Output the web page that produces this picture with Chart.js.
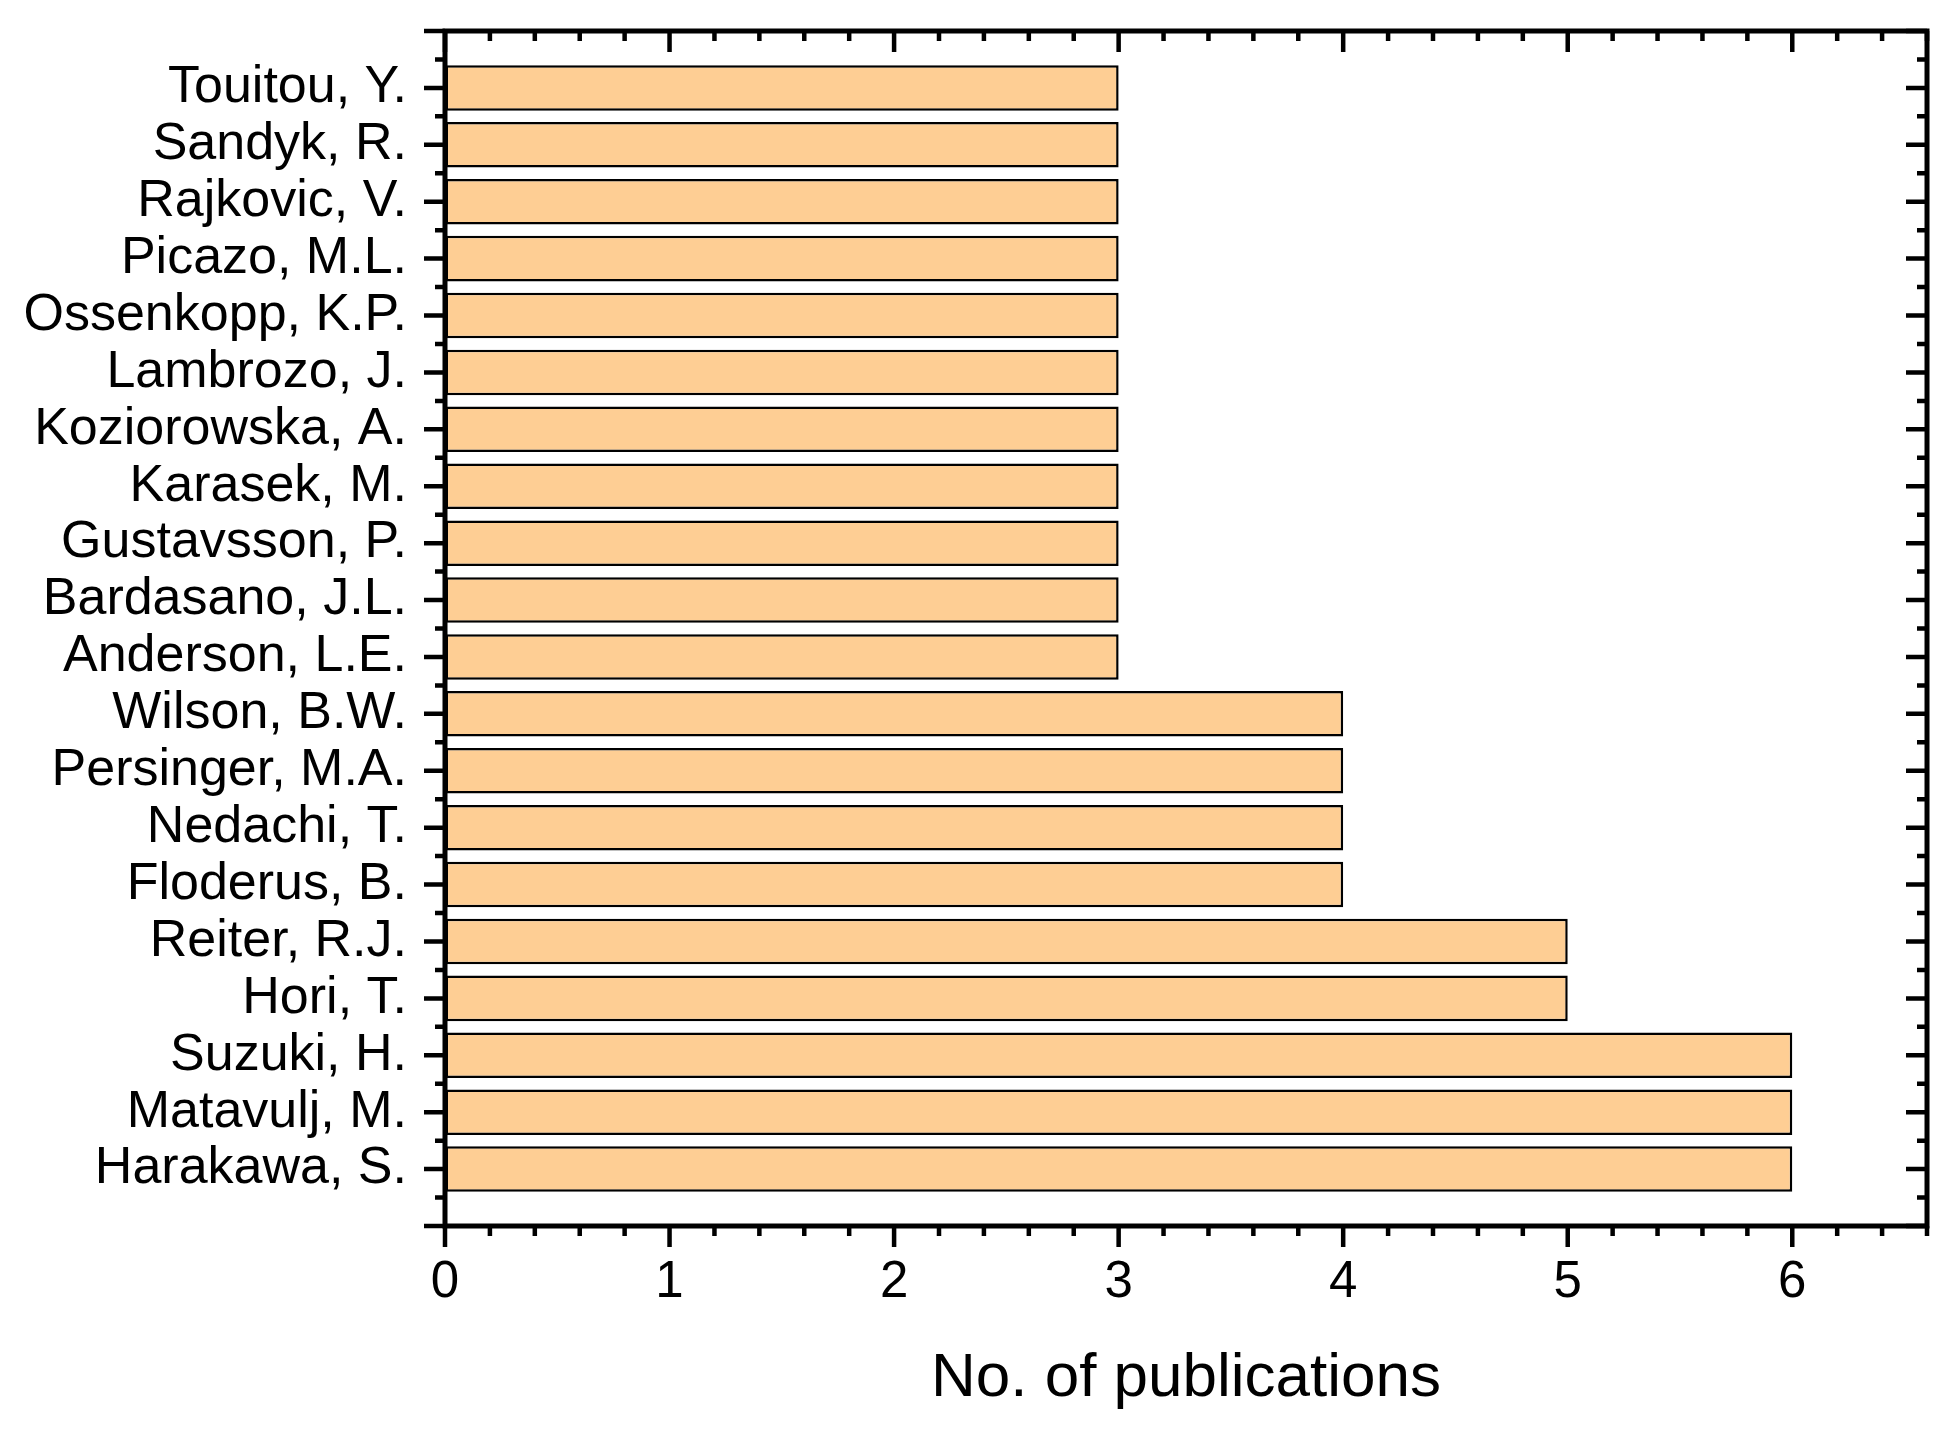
<!DOCTYPE html>
<html>
<head>
<meta charset="utf-8">
<title>No. of publications per author</title>
<script src="https://cdn.jsdelivr.net/npm/chart.js@4.4.1/dist/chart.umd.min.js"></script>
<style>
  html, body { margin: 0; padding: 0; background: #fff; }
  #wrap { width: 1956px; height: 1432px; position: relative; }
</style>
</head>
<body>
<div id="wrap"><canvas id="chart"></canvas></div>
<script>
// authors, listed top to bottom as in the figure
const authors = [
  "Touitou, Y.", "Sandyk, R.", "Rajkovic, V.", "Picazo, M.L.", "Ossenkopp, K.P.",
  "Lambrozo, J.", "Koziorowska, A.", "Karasek, M.", "Gustavsson, P.", "Bardasano, J.L.",
  "Anderson, L.E.", "Wilson, B.W.", "Persinger, M.A.", "Nedachi, T.", "Floderus, B.",
  "Reiter, R.J.", "Hori, T.", "Suzuki, H.", "Matavulj, M.", "Harakawa, S."
];
const publications = [3, 3, 3, 3, 3, 3, 3, 3, 3, 3, 3, 4, 4, 4, 4, 5, 5, 6, 6, 6];

const xMin = 0;
const xMax = 6.6;
const xTickValues = [0, 1, 2, 3, 4, 5, 6];
const xTitle = "No. of publications";

const FONT = "'Liberation Sans', Arial, Helvetica, sans-serif";

// box frame + Origin-style ticks (out on left/bottom, in on top/right)
const frameTicks = {
  id: "frameTicks",
  afterDraw(chart) {
    const { ctx, chartArea: a, scales } = chart;
    const x = scales.x, y = scales.y;
    const major = 21, minor = 10;
    ctx.save();
    ctx.strokeStyle = "#000";
    ctx.lineCap = "butt";
    ctx.lineWidth = 4.5;
    ctx.beginPath();
    // x ticks every 0.2, major each 1
    for (let k = 0; k <= Math.round(xMax * 5); k++) {
      const px = x.getPixelForValue(k / 5);
      const len = k % 5 === 0 ? major : minor;
      ctx.moveTo(px, a.bottom); ctx.lineTo(px, a.bottom + len);
      ctx.moveTo(px, a.top); ctx.lineTo(px, a.top + len);
    }
    // y ticks at each author, minor halfway between
    for (let k = -2; k <= authors.length * 2; k++) {
      const py = y.getPixelForValue(k / 2);
      const len = k % 2 === 0 ? major : minor;
      ctx.moveTo(a.left - len, py); ctx.lineTo(a.left, py);
      ctx.moveTo(a.right - len, py); ctx.lineTo(a.right, py);
    }
    ctx.stroke();
    ctx.lineWidth = 5;
    ctx.strokeRect(a.left, a.top, a.right - a.left, a.bottom - a.top);
    ctx.restore();
  }
};

const ctx = document.getElementById("chart").getContext("2d");
new Chart(ctx, {
  type: "bar",
  data: {
    datasets: [{
      data: authors.map((name, i) => ({ x: publications[i], y: i })),
      backgroundColor: "#FECE94",
      borderColor: "#000",
      borderWidth: 2.5,
      borderSkipped: false,
      barPercentage: 0.8,
      categoryPercentage: 1.0
    }]
  },
  options: {
    indexAxis: "y",
    responsive: true,
    maintainAspectRatio: false,
    devicePixelRatio: 1,
    animation: false,
    layout: { padding: { top: 31, right: 29, left: 0, bottom: 0 } },
    plugins: { legend: { display: false }, tooltip: { enabled: false } },
    scales: {
      x: {
        type: "linear",
        min: xMin,
        max: xMax,
        afterFit: (s) => { s.height = 206; s.paddingLeft = 0; s.paddingRight = 0; },
        afterBuildTicks: (s) => { s.ticks = xTickValues.map(v => ({ value: v })); },
        grid: { drawOnChartArea: false, drawTicks: true, tickLength: 22, color: "transparent" },
        border: { display: false },
        ticks: {
          color: "#000",
          font: { family: FONT, size: 51 },
          padding: 4,
          maxRotation: 0,
          autoSkip: false
        },
        title: {
          display: true,
          text: xTitle,
          color: "#000",
          font: { family: FONT, size: 62 },
          padding: { top: 0, bottom: 16 }
        }
      },
      y: {
        type: "linear",
        min: -1,
        max: authors.length,
        reverse: true,
        offset: false,
        afterFit: (s) => { s.width = 445; s.paddingTop = 0; s.paddingBottom = 0; },
        afterBuildTicks: (s) => { s.ticks = authors.map((n, i) => ({ value: i })); },
        grid: { drawOnChartArea: false, drawTicks: true, offset: false, tickLength: 21, color: "transparent" },
        border: { display: false },
        ticks: {
          color: "#000",
          font: { family: FONT, size: 52 },
          padding: 17,
          autoSkip: false,
          callback: (v) => authors[v] ?? ""
        }
      }
    }
  },
  plugins: [frameTicks]
});
</script>
</body>
</html>
